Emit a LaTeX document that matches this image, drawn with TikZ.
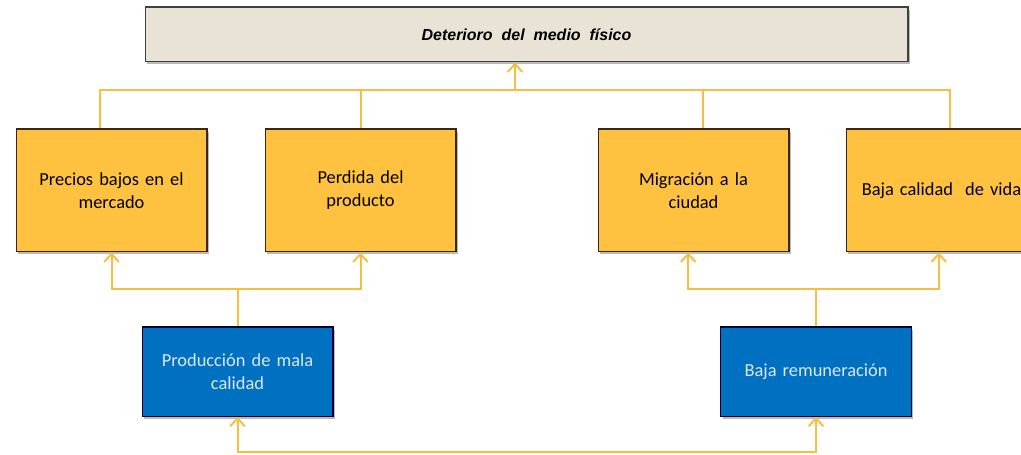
\documentclass[tikz,border=0pt]{standalone}
\usepackage{fontspec}
\setmainfont{Carlito}
\newfontfamily\titlefont{Liberation Sans}
\usetikzlibrary{positioning,arrows.meta,shadows}
\definecolor{linkyellow}{RGB}{247,190,70}
\definecolor{effectfill}{RGB}{254,194,64}
\definecolor{causefill}{RGB}{0,112,192}
\definecolor{causetext}{RGB}{220,232,246}
\definecolor{topfill}{RGB}{233,227,214}

\begin{document}
\begin{tikzpicture}[
  x=0.75pt, y=0.75pt,
  font=\fontsize{13.8}{17.3}\selectfont,
  problem/.style={draw=black!75, line width=1pt, fill=topfill,
    minimum width=572pt, minimum height=41pt,
    drop shadow={shadow xshift=1.5pt, shadow yshift=-2pt, fill=black!45, opacity=0.6},
    font=\titlefont\bfseries\itshape\fontsize{12}{14}\selectfont},
  effect/.style={draw=black!70!brown, line width=1pt, fill=effectfill,
    minimum width=143pt, minimum height=92pt, align=center, text width=135pt,
    drop shadow={shadow xshift=1.5pt, shadow yshift=-2pt, fill=black!45, opacity=0.6}},
  cause/.style={draw=black!80!blue, line width=1pt, fill=causefill, text=causetext,
    minimum width=143pt, minimum height=67pt, align=center, text width=135pt,
    drop shadow={shadow xshift=1.5pt, shadow yshift=-2pt, fill=black!45, opacity=0.6}},
  link/.style={draw=linkyellow, line width=1.5pt},
  flow/.style={link, -{Straight Barb[length=6pt,width=11pt]}},
  twoway/.style={link, {Straight Barb[length=6pt,width=11pt]}-{Straight Barb[length=6pt,width=11pt]}}
]
\useasboundingbox (0,0) rectangle (1021,454);

\node[problem] (deterioro) at (526.5,419.5) {Deterioro\ \ del\ \ medio\ \ físico};

\node[effect] (precios) at (111.5,263.5) {Precios bajos en el\\mercado\\[4pt]};
\node[effect] (perdida) at (360.5,263.5) {Perdida del\\producto\\[4pt]};
\node[effect] (migracion) at (693.5,263.5) {Migración a la\\ciudad\\[4pt]};
\node[effect] (vida) at (941.5,263.5) {Baja calidad\ \ de vida\\[4pt]};

\node[cause] (produccion) at (237.5,82.5) {Producción de mala\\calidad};
\node[cause] (remuneracion) at (816,82.5) {Baja remuneración};

\coordinate (bus) at (515,364);
\coordinate (base) at (527,2);

\draw[link] ([xshift=-8.6pt]precios.north) |- (bus) -| ([xshift=6.4pt]vida.north);
\draw[link] (perdida.north) |- (bus);
\draw[link] ([xshift=7pt]migracion.north) |- (bus);
\draw[flow] (bus) -- (deterioro.south -| bus);

\draw[flow] (produccion.north) -- ++(0,37) -| (precios.south);
\draw[flow] (produccion.north) -- ++(0,37) -| (perdida.south);
\draw[flow] (remuneracion.north) -- ++(0,37) -| ([xshift=-4pt]migracion.south);
\draw[flow] (remuneracion.north) -- ++(0,37) -| ([xshift=-2pt]vida.south);

\draw[twoway] (produccion.south) |- (base) -| (remuneracion.south);

\end{tikzpicture}
\end{document}
